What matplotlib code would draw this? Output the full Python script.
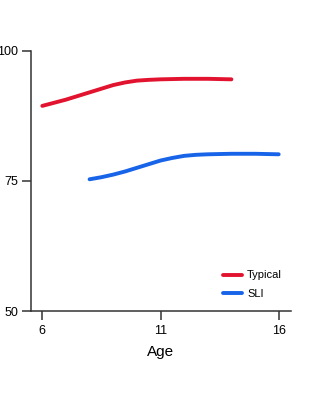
import matplotlib
matplotlib.use('Agg')
import matplotlib.pyplot as plt

# values (every half year)
typicalAge = [6, 6.5, 7, 7.5, 8, 8.5, 9, 9.5, 10, 10.5, 11, 11.5, 12, 12.5, 13, 13.5, 14]
typicalScore = [89.4, 90.0, 90.6, 91.3, 92.0, 92.7, 93.4, 93.9, 94.25, 94.4,
                94.5, 94.55, 94.6, 94.6, 94.6, 94.55, 94.5]

sliAge = [8, 8.5, 9, 9.5, 10, 10.5, 11, 11.5, 12, 12.5, 13, 13.5, 14, 14.5, 15, 15.5, 16]
sliScore = [75.3, 75.7, 76.2, 76.8, 77.5, 78.2, 78.9, 79.4, 79.8, 80.0,
            80.1, 80.15, 80.2, 80.2, 80.2, 80.15, 80.1]

xTicks = [6, 11, 16]
yTicks = [50, 75, 100]

plt.rcParams['font.family'] = ['Liberation Sans', 'DejaVu Sans']

fig = plt.figure(figsize=(3.24, 4.0), dpi=100)
ax = fig.add_axes([30.5 / 324, 89 / 400, 260 / 324, 260.3 / 400])

ax.plot(typicalAge, typicalScore, color='#e2132f', linewidth=2.8,
        solid_capstyle='round', label='Typical')
ax.plot(sliAge, sliScore, color='#1764e8', linewidth=2.8,
        solid_capstyle='round', label='SLI')

ax.set_xlim(5.5, 16.5)
ax.set_ylim(50, 100)
ax.set_xticks(xTicks)
ax.set_yticks(yTicks)
ax.tick_params(axis='both', length=6.5, width=1.1, color='#333333',
               labelsize=9, pad=3.5)
ax.tick_params(axis='y', pad=2.5)

for side in ['top', 'right']:
    ax.spines[side].set_visible(False)
for side in ['left', 'bottom']:
    ax.spines[side].set_color('#333333')
    ax.spines[side].set_linewidth(1.1)

ax.set_xlabel('Age', fontsize=11, labelpad=6)

ax.legend(loc='lower right', bbox_to_anchor=(1.01, 0.003), frameon=False,
          fontsize=8, handlelength=1.7, handletextpad=0.5,
          labelspacing=0.78, borderaxespad=0.6)

plt.savefig('out.png', dpi=100)
